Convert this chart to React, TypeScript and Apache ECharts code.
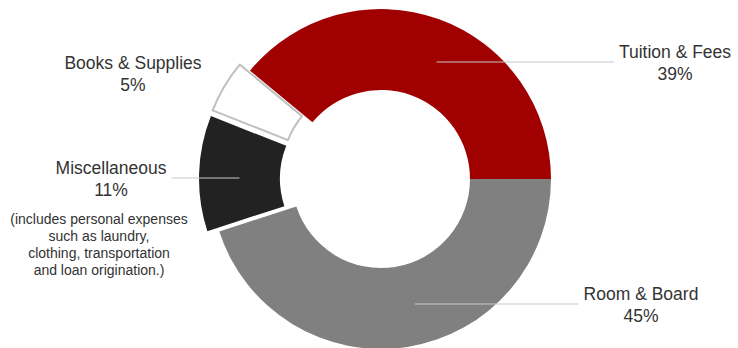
import React, { useEffect, useRef } from 'react';
import * as echarts from 'echarts';

// ---- data ----
const categories = ['Room & Board', 'Miscellaneous', 'Books & Supplies', 'Tuition & Fees'];
const shares = [45, 11, 5, 39];
const sliceColors = ['#808080', '#222222', '#FFFFFF', '#A00000'];
const exploded = [false, true, true, false];
const noteLines = [
  '(includes personal expenses',
  'such as laundry,',
  'clothing, transportation',
  'and loan origination.)',
];

// ---- layout ----
const CX = 381;
const CY = 179;
const R_IN = 89;
const R_OUT = 170;
const OFFSET = 12;
const labelAnchors = [
  { x: 641, y: 305, side: 'right' },
  { x: 111, y: 179, side: 'left' },
  { x: 133, y: 74, side: 'none' },
  { x: 675, y: 63, side: 'right' },
];
const FONT_FAMILY = '"Liberation Sans", Arial, Helvetica, sans-serif';
const FONT_SIZE = 17.5;
const TEXT = '#333333';
const LINE = '#C8C8C8';

function measure(text: string, size: number) {
  const c = document.createElement('canvas').getContext('2d');
  if (!c) return text.length * size * 0.5;
  c.font = `${size}px ${FONT_FAMILY}`;
  return c.measureText(text).width;
}

export default function App() {
  const ref = useRef<HTMLDivElement>(null);
  useEffect(() => {
    if (!ref.current) return;
    const chart = echarts.init(ref.current, undefined, { renderer: 'svg' });
    const total = shares.reduce((a, b) => a + b, 0);
    let cum = 0;
    const midAngles = shares.map((v) => {
      const m = ((cum + v / 2) / total) * Math.PI * 2;
      cum += v;
      return m;
    });
    const data = categories.map((name, i) => ({
      name,
      value: shares[i],
      selected: exploded[i],
      itemStyle: {
        color: sliceColors[i],
        borderColor: sliceColors[i] === '#FFFFFF' ? '#BFBFBF' : sliceColors[i],
        borderWidth: sliceColors[i] === '#FFFFFF' ? 2 : 0,
      },
    }));

    const graphics: any[] = [];
    categories.forEach((name, i) => {
      const a = labelAnchors[i];
      const pct = `${shares[i]}%`;
      graphics.push({
        type: 'text',
        x: a.x,
        y: a.y,
        z: 20,
        silent: true,
        style: {
          text: `${name}\n${pct}`,
          align: 'center',
          verticalAlign: 'middle',
          fontSize: FONT_SIZE,
          lineHeight: 22,
          fontFamily: FONT_FAMILY,
          fill: TEXT,
        },
      });
      if (a.side !== 'none') {
        const w = Math.max(measure(name, FONT_SIZE), measure(pct, FONT_SIZE));
        const r = (R_IN + R_OUT) / 2 + (exploded[i] ? OFFSET : 0);
        const ly = a.y - 1;
        const dy = ly - CY;
        const sign = Math.cos(midAngles[i]) >= 0 ? 1 : -1;
        const mx =
          Math.abs(dy) < r
            ? CX + sign * Math.sqrt(r * r - dy * dy)
            : CX + r * Math.cos(midAngles[i]);
        const endX = a.side === 'right' ? a.x - w / 2 - 5 : a.x + w / 2 + 5;
        graphics.push({
          type: 'line',
          z: 15,
          silent: true,
          shape: { x1: mx, y1: ly, x2: endX, y2: ly },
          style: { stroke: LINE, lineWidth: 1.2 },
        });
      }
    });
    graphics.push({
      type: 'text',
      x: 99,
      y: 210,
      z: 20,
      silent: true,
      style: {
        text: noteLines.join('\n'),
        align: 'center',
        verticalAlign: 'top',
        fontSize: 14,
        lineHeight: 17,
        fontFamily: FONT_FAMILY,
        fill: TEXT,
      },
    });

    chart.setOption({
      animation: false,
      graphic: graphics,
      series: [
        {
          type: 'pie',
          z: 2,
          center: [CX, CY],
          radius: [R_IN, R_OUT],
          startAngle: 0,
          clockwise: true,
          selectedMode: 'multiple',
          selectedOffset: OFFSET,
          silent: true,
          data,
          label: { show: false },
          labelLine: { show: false },
        },
      ],
    });
    return () => chart.dispose();
  }, []);
  return (
    <div
      ref={ref}
      style={{ position: 'fixed', left: 0, top: 0, width: 738, height: 348, background: '#fff' }}
    />
  );
}
